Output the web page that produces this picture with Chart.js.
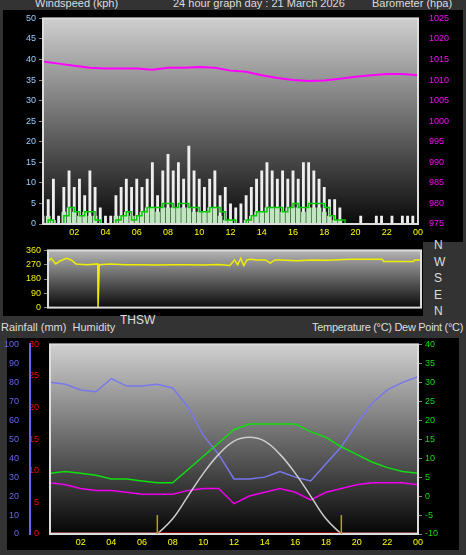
<!DOCTYPE html>
<html><head><meta charset="utf-8">
<script src="https://cdn.jsdelivr.net/npm/chart.js@4/dist/chart.umd.min.js"></script>
<style>
body{margin:0;background:#333;width:466px;height:555px;position:relative;overflow:hidden;font-family:"Liberation Sans",Arial,sans-serif}
.t{position:absolute;color:#ddd;font-size:11px;white-space:nowrap}
.p{position:absolute;background:#000}
canvas{position:absolute}
</style></head><body>
<div class="p" style="left:3px;top:10px;width:460px;height:232px"></div>
<div class="p" style="left:3px;top:242px;width:420px;height:74px"></div>
<div class="p" style="left:7px;top:338px;width:452px;height:212px"></div>
<div class="t" style="left:35px;top:-3px">Windspeed (kph)</div>
<div class="t" style="left:173px;top:-3px">24 hour graph day : 21 March 2026</div>
<div class="t" style="left:372px;top:-3px">Barometer (hpa)</div>
<div class="t" style="left:434px;top:237px;line-height:16.5px;font-size:12px">N<br>W<br>S<br>E<br>N</div>
<div class="t" style="left:120px;top:313px;font-size:12px">THSW</div>
<div class="t" style="left:1px;top:321px">Rainfall (mm)&nbsp; Humidity</div>
<div class="t" style="left:312px;top:321px;letter-spacing:-0.3px">Temperature (°C) Dew Point (°C)</div>
<canvas id="c1" style="left:0;top:10px" width="466" height="232"></canvas>
<canvas id="c2" style="left:0;top:242px" width="466" height="74"></canvas>
<canvas id="c3" style="left:0;top:336px" width="466" height="216"></canvas>
<script>
// wind, every 20 minutes
const windGust = [2,6,11, 2,9,13, 9,11,7, 13,9,4, 2,2,7, 9,11,9, 11,9,11, 15,7,13, 17,13,15, 11,19,13, 11,9,11, 13,7,9, 5,4,5, 7,9,11, 13,15,13, 11,13,11, 13,11,15, 15,13,11, 9,6,6, 4,0,0, 0,2,0, 0,2,2, 0,2,0, 2,2,2];
const windSpeed = [0,2,1, 0,3,4, 3,2,3, 2,2,0, 0,0,2, 2,3,2, 2,3,4, 4,3,4, 4,4,4, 4,4,3, 3,3,4, 4,2,1, 1,0,0, 1,2,3, 3,4,4, 4,3,4, 4,4,3, 4,4,4, 3,2,1, 1,0,0, 0,0,0, 0,0,0, 0,0,0, 0,0,0];
const windAvg = [0,1,0, 0,2,4, 3,2,3, 3,1,0, 0,0,1, 2,3,1, 2,3,4, 4,4,5, 5,4,5, 5,4,4, 3,3,4, 4,3,1, 1,0,0, 1,2,3, 3,4,4, 4,3,4, 5,4,4, 5,5,5, 4,2,1, 1,0,0, 0,0,0, 0,0,0, 0,0,0, 0,0,0];
const baroHours = [0,1,2,3,4,5,6,7,8,9,10,11,12,13,14,15,16,17,18,19,20,21,22,23,24];
const baro = [1014.5,1014,1013.5,1013,1012.8,1012.8,1012.8,1012.5,1013,1013,1013.2,1013,1012.3,1012,1011.2,1010.5,1010,1009.8,1009.9,1010.3,1010.8,1011.2,1011.5,1011.5,1011.2];
const dirTimes = [0,0.2,0.5,0.8,1.2,1.5,1.8,2.5,3.2,3.22,3.25,3.3,4,5,6,7,8,9,10,11,11.7,12,12.2,12.4,12.6,12.8,13,13.5,14,14.3,14.6,15,16,17,18,19,19.5,21.5,21.6,23.5,23.6,24];
const windDir = [290,310,275,295,310,300,275,270,275,0,0,270,275,270,270,268,270,270,268,272,265,300,270,310,265,300,305,300,300,280,300,300,295,300,298,303,305,305,290,290,300,300];
const hours = [0,1,2,3,4,5,6,7,8,9,10,11,12,13,14,15,16,17,18,19,20,21,22,23,24];
const humidity = [80,79,76,75,82,78,78,79,77,67,52,42,29,29,30,33,30,28,37,46,58,69,76,80,83];
const temperature = [6,6.5,6,5.5,4.5,4.5,4,3.5,3.5,7,10.5,14,17.5,19,19,19,19,17,15.5,13,11,9,7.5,6.5,6];
const dewPoint = [3.5,3,2,1.5,1.5,1,0.5,0.5,0.5,1.5,2,2,-2,0,1,2,1,-1,1,2,3,3.5,3.5,3.5,3];
const thsw = [null,null,null,null,null,null,null,-10,-6,0,6,11,14.5,15.5,14.5,11,6,0,-6,-10,null,null,null,null,null];
const rainfall = [0,0,0,0,0,0,0,0,0,0,0,0,0,0,0,0,0,0,0,0,0,0,0,0,0];
const hourTicks = [2,4,6,8,10,12,14,16,18,20,22,24];
const daylight = [7, 19];

const step20 = (arr) => arr.map((v, i) => ({ x: i / 3, y: v }));
const pts = (xs, ys) => ys.map((v, i) => ({ x: xs[i], y: v }));
const hhLabel = (v) => String(v % 24).padStart(2, "0");

const bgPlugin = (top, bottom) => ({
  id: "bg",
  beforeDatasetsDraw(chart) {
    const { ctx, chartArea: a } = chart;
    const g = ctx.createLinearGradient(0, a.top, 0, a.bottom);
    g.addColorStop(0, top); g.addColorStop(1, bottom);
    ctx.save(); ctx.fillStyle = g; ctx.fillRect(a.left, a.top, a.right - a.left, a.bottom - a.top);
    ctx.restore();
  },
  afterDatasetsDraw(chart) {
    const { ctx, chartArea: a } = chart;
    ctx.save(); ctx.strokeStyle = "#ddd"; ctx.lineWidth = 2;
    ctx.strokeRect(a.left, a.top, a.right - a.left, a.bottom - a.top); ctx.restore();
  },
});
const fixW = (w) => (s) => { s.width = w; };
const fixH = (h) => (s) => { s.height = h; };
Chart.defaults.font.family = "Liberation Sans, Arial, sans-serif";
Chart.defaults.font.size = 9;
Chart.defaults.animation = false;
const grid = { color: "rgba(255,255,255,0.25)", tickColor: "#888", tickLength: 4 };
const xAxis = (show) => ({
  type: "linear", min: 0, max: 24, offset: false, afterFit: fixH(show ? 18 : 2),
  afterBuildTicks: (s) => { s.ticks = hourTicks.map((v) => ({ value: v })); },
  ticks: { display: show, color: "#ff0", callback: hhLabel, maxRotation: 0 },
  grid: { ...grid, drawTicks: false, offset: false }, border: { display: false },
});

new Chart(document.getElementById("c1"), {
  type: "bar",
  data: { datasets: [
    { type: "line", data: pts(baroHours, baro), yAxisID: "yb", borderColor: "#f0f", borderWidth: 2, pointRadius: 0 },
    { type: "line", data: step20(windAvg), borderColor: "#0c0", borderWidth: 1.5, pointRadius: 0, stepped: true },
    { data: step20(windSpeed), backgroundColor: "#bfe8bf", barPercentage: 0.9, categoryPercentage: 1, grouped: false },
    { data: step20(windGust), backgroundColor: "#eee", barPercentage: 0.55, categoryPercentage: 1, grouped: false },
  ] },
  options: {
    responsive: false, layout: { padding: { top: 1, right: 0, left: 0, bottom: 0 } },
    plugins: { legend: { display: false }, tooltip: { enabled: false } },
    scales: {
      x: xAxis(true),
      y: { min: 0, max: 50, afterFit: fixW(43), ticks: { stepSize: 5, color: "#9cf" }, grid: grid, border: { color: "#ddd" } },
      yb: { position: "right", min: 975, max: 1025, afterFit: fixW(48), ticks: { stepSize: 5, color: "#f0f", callback: (v) => String(v) }, grid: { display: false }, border: { color: "#ddd" } },
    },
  },
  plugins: [bgPlugin("#cfcfcf", "#0a0a0a")],
});

new Chart(document.getElementById("c2"), {
  type: "line",
  data: { datasets: [{ data: pts(dirTimes, windDir), borderColor: "#ee0", borderWidth: 1.5, pointRadius: 0 }] },
  options: {
    responsive: false, layout: { padding: { top: 4, bottom: 3 } },
    plugins: { legend: { display: false }, tooltip: { enabled: false } },
    scales: {
      x: xAxis(false),
      y: { min: 0, max: 360, afterFit: fixW(48), ticks: { stepSize: 90, color: "#ee0" }, grid: grid, border: { color: "#ddd" } },
      yr: { position: "right", afterFit: fixW(45), ticks: { display: false }, grid: { display: false }, border: { display: false } },
    },
  },
  plugins: [bgPlugin("#b5b5b5", "#0a0a0a")],
});

const sunMarks = {
  id: "sun",
  afterDatasetsDraw(chart) {
    const { ctx, scales: { x, yr } } = chart;
    ctx.save(); ctx.strokeStyle = "#aa0"; ctx.lineWidth = 1.5;
    daylight.forEach((h) => { ctx.beginPath(); ctx.moveTo(x.getPixelForValue(h), yr.getPixelForValue(0)); ctx.lineTo(x.getPixelForValue(h), yr.getPixelForValue(3)); ctx.stroke(); });
    ctx.restore();
  },
};
new Chart(document.getElementById("c3"), {
  type: "line",
  data: { datasets: [
    { data: pts(hours, rainfall), yAxisID: "yr", borderWidth: 3, pointRadius: 0,
      segment: { borderColor: (c) => (c.p0.parsed.x >= daylight[0] && c.p1.parsed.x <= daylight[1] ? "#f00" : "#e88") } },
    { data: pts(hours, thsw), yAxisID: "yt", borderColor: "#ccc", borderWidth: 1.5, pointRadius: 0, tension: 0.4 },
    { data: pts(hours, dewPoint), yAxisID: "yt", borderColor: "#e0e", borderWidth: 1.5, pointRadius: 0 },
    { data: pts(hours, temperature), yAxisID: "yt", borderColor: "#1d1", borderWidth: 1.5, pointRadius: 0 },
    { data: pts(hours, humidity), yAxisID: "yh", borderColor: "#77e", borderWidth: 1.5, pointRadius: 0 },
  ] },
  options: {
    responsive: false, layout: { padding: { top: 4 } },
    plugins: { legend: { display: false }, tooltip: { enabled: false } },
    scales: {
      x: xAxis(true),
      yr: { position: "left", min: 0, max: 30, afterFit: fixW(20), ticks: { stepSize: 5, color: "#f00" }, grid: { display: false }, border: { color: "#ddd" } },
      yh: { position: "left", min: 0, max: 100, afterFit: fixW(30), ticks: { stepSize: 10, color: "#66e" }, grid: { display: false }, border: { color: "#66e", width: 2 } },
      yt: { position: "right", min: -10, max: 40, afterFit: fixW(48), ticks: { stepSize: 5, color: "#1d1" }, grid: grid, border: { color: "#ddd" } },
    },
  },
  plugins: [bgPlugin("#d0d0d0", "#050505"), sunMarks],
});
</script>
</body></html>
